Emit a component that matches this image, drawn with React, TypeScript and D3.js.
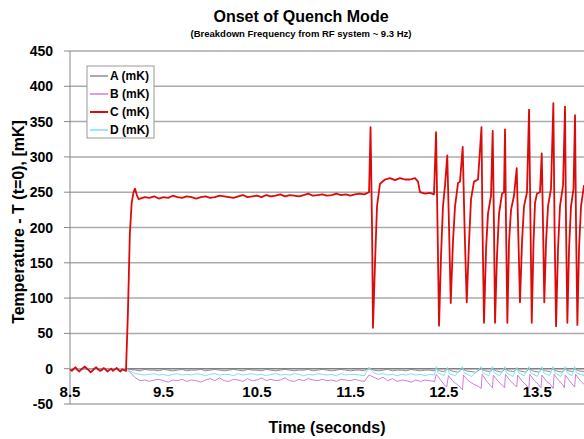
import React from "react";
import * as d3 from "d3";

const width = 584;
const height = 439;

type Pt = [number, number];

// tick values
const yTicks = [-50, 0, 50, 100, 150, 200, 250, 300, 350, 400, 450];
const xTicks = [8.5, 9.5, 10.5, 11.5, 12.5, 13.5];

const seriesNames = ["A (mK)", "B (mK)", "C (mK)", "D (mK)"];
const seriesColors = ["#8c8ca0", "#cc7fdc", "#dd0a0a", "#7fe0ee"];

// C (red) : noise before the step, read every 0.02 s from 8.50 s
const cPreStep = [-1, -3, 0, 2, -2, -4, -1, 1, 3, 0, -2, -5, -3, 0, 2, -1, -3, -2, 1, -1, -4, -2, 0, -3, -1, 1, -2, -4, -1, -2];
const cStep: Pt[] = [[9.099, -3], [9.12, 80], [9.14, 190], [9.16, 235], [9.18, 250], [9.196, 255], [9.215, 246], [9.235, 240]];
// plateau read every 0.05 s from 9.25 s
const cPlateau = [241, 243, 242, 244, 241, 243, 242, 245, 243, 242, 244, 243, 241, 243, 244, 242, 243, 245, 244, 243, 242, 244, 246, 243, 244, 245, 243, 246, 244, 245, 247, 244, 246, 245, 244, 246, 248, 245, 246, 247, 245, 246, 248, 246, 247, 245, 247, 248, 247];
const cQuench: Pt[] = [
  [11.667, 248], [11.700, 250], [11.716, 342], [11.732, 200], [11.742, 58], [11.764, 150], [11.785, 230], [11.817, 262],
  [11.871, 268], [11.924, 270], [11.978, 267], [12.031, 270], [12.085, 268], [12.138, 268], [12.192, 270], [12.224, 265],
  [12.245, 250], [12.299, 248], [12.352, 249], [12.395, 247], [12.417, 335], [12.433, 200], [12.449, 61], [12.470, 160],
  [12.491, 230], [12.513, 260], [12.537, 302], [12.556, 200], [12.574, 93], [12.598, 180], [12.620, 230], [12.652, 263],
  [12.673, 265], [12.702, 314], [12.722, 200], [12.745, 94], [12.770, 180], [12.791, 240], [12.823, 265], [12.866, 268],
  [12.903, 342], [12.914, 200], [12.930, 65], [12.952, 170], [12.973, 220], [13.005, 245], [13.023, 337], [13.037, 200],
  [13.048, 65], [13.069, 160], [13.091, 220], [13.123, 248], [13.144, 250], [13.155, 339], [13.166, 200], [13.180, 65],
  [13.198, 180], [13.219, 225], [13.251, 245], [13.280, 284], [13.299, 180], [13.315, 94], [13.337, 180], [13.358, 230],
  [13.390, 250], [13.412, 367], [13.428, 200], [13.441, 65], [13.460, 180], [13.476, 235], [13.497, 248], [13.529, 250],
  [13.548, 305], [13.562, 200], [13.575, 94], [13.594, 180], [13.615, 230], [13.647, 255], [13.672, 376], [13.685, 200],
  [13.701, 60], [13.722, 170], [13.743, 230], [13.776, 260], [13.797, 371], [13.808, 200], [13.822, 65], [13.840, 170],
  [13.861, 230], [13.888, 255], [13.904, 359], [13.915, 200], [13.929, 62], [13.947, 170], [13.968, 230], [14.0, 260],
];

// A, B, D : read every 0.05 s from 9.15 s to 12.40 s
const aPlateau = [-1, -2, -3, -1, -2, -2, -3, -1, -2, -3, -2, -1, -3, -2, -2, -1, -3, -2, -1, -2, -3, -2, -1, -2, -3, -1, -2, -2, -3, -1, -2, -3, -2, -1, -2, -3, -2, -2, -1, -3, -2, -1, -2, -3, -2, -1, -2, -3, -2, -2, -3, 1, -2, -3, -2, -1, -3, -2, -2, -3, -1, -2, -3, -2, -2, -3];
const bPlateau = [-6, -13, -17, -16, -18, -16, -15, -17, -19, -16, -17, -15, -18, -16, -17, -19, -16, -14, -17, -13, -17, -18, -15, -16, -18, -14, -17, -16, -13, -17, -15, -17, -16, -13, -17, -18, -15, -17, -14, -16, -17, -15, -17, -16, -18, -15, -16, -17, -15, -17, -18, -9, -12, -15, -12, -17, -14, -18, -16, -17, -19, -16, -18, -16, -17, -18];
const dPlateau = [-4, -7, -8, -9, -8, -7, -9, -8, -10, -8, -7, -9, -8, -9, -7, -8, -10, -8, -7, -9, -8, -8, -10, -7, -9, -8, -7, -9, -8, -10, -8, -7, -9, -8, -9, -7, -8, -10, -8, -9, -7, -8, -9, -8, -10, -7, -9, -8, -8, -9, -10, 2, -6, -8, -7, -9, -8, -10, -8, -9, -7, -9, -8, -10, -8, -9];
const minorStart: Pt[] = [[8.5, 0], [8.8, -1], [9.1, 0]];

const aQuench: Pt[] = [
  [12.42, 1], [12.45, -3], [12.50, -4], [12.54, 0], [12.58, -3], [12.65, -5], [12.70, 0], [12.74, -3], [12.84, -5],
  [12.90, 0], [12.94, -3], [13.0, -4], [13.02, 0], [13.06, -3], [13.12, -5], [13.155, 0], [13.19, -3], [13.25, -4],
  [13.28, 0], [13.31, -3], [13.38, -5], [13.41, 0], [13.45, -3], [13.52, -5], [13.55, 0], [13.58, -3], [13.64, -4],
  [13.67, 0], [13.70, -3], [13.77, -5], [13.80, 0], [13.83, -3], [13.88, -4], [13.90, 0], [13.94, -3], [14.0, -4],
];
const bQuench: Pt[] = [
  [12.42, -8], [12.46, -15], [12.50, -22], [12.53, -26], [12.55, -10], [12.60, -18], [12.66, -24], [12.70, -30],
  [12.71, -9], [12.76, -17], [12.82, -22], [12.87, -25], [12.90, -28], [12.91, -8], [12.96, -18], [13.00, -24],
  [13.02, -27], [13.03, -9], [13.08, -18], [13.12, -23], [13.15, -27], [13.16, -8], [13.21, -17], [13.25, -22],
  [13.28, -26], [13.29, -9], [13.34, -18], [13.38, -23], [13.41, -28], [13.42, -8], [13.47, -17], [13.51, -22],
  [13.54, -27], [13.55, -9], [13.60, -18], [13.64, -22], [13.67, -28], [13.68, -8], [13.73, -17], [13.77, -22],
  [13.79, -27], [13.80, -9], [13.85, -18], [13.90, -26], [13.91, -8], [13.96, -17], [14.0, -22],
];
const dQuench: Pt[] = [
  [12.42, 3], [12.44, -6], [12.50, -10], [12.54, 2], [12.56, -7], [12.62, -10], [12.70, 3], [12.72, -6], [12.80, -11],
  [12.90, 3], [12.92, -6], [12.98, -10], [13.02, 3], [13.04, -6], [13.10, -10], [13.155, 3], [13.17, -6], [13.24, -11],
  [13.28, 2], [13.30, -6], [13.36, -10], [13.41, 3], [13.43, -6], [13.50, -11], [13.55, 3], [13.57, -6], [13.63, -10],
  [13.67, 3], [13.69, -6], [13.75, -11], [13.80, 3], [13.82, -6], [13.87, -10], [13.90, 3], [13.92, -6], [14.0, -10],
];

const sampled = (t0: number, dt: number, values: number[]): Pt[] =>
  values.map((v, i) => [t0 + i * dt, v] as Pt);

const seriesA = [...minorStart, ...sampled(9.15, 0.05, aPlateau), ...aQuench];
const seriesB = [...minorStart, ...sampled(9.15, 0.05, bPlateau), ...bQuench];
const seriesC = [...sampled(8.5, 0.02, cPreStep), ...cStep, ...sampled(9.25, 0.05, cPlateau), ...cQuench];
const seriesD = [...minorStart, ...sampled(9.15, 0.05, dPlateau), ...dQuench];

const font = "'Liberation Sans', Arial, sans-serif";

export default function App() {
  const x = d3.scaleLinear().domain([8.5, 14]).range([70, 584]);
  const y = d3.scaleLinear().domain([-50, 450]).range([404, 51]);

  const line = d3.line<Pt>()
    .x(d => x(d[0]))
    .y(d => y(d[1]));

  const allSeries = [seriesA, seriesB, seriesC, seriesD];
  const drawOrder = [0, 1, 3, 2];

  const legendX = 87;
  const legendY = 66;

  return (
    <svg width={width} height={height} style={{ position: "absolute", left: 0, top: 0, background: "#fff" }} fontFamily={font}>
      <text x={301} y={22} textAnchor="middle" fontSize={16} fontWeight="bold">Onset of Quench Mode</text>
      <text x={301} y={37} textAnchor="middle" fontSize={9.5} fontWeight="bold">(Breakdown Frequency from RF system ~ 9.3 Hz)</text>

      {/* gridlines */}
      {yTicks.filter(t => t !== 0).map(t => (
        <line key={t} x1={70} x2={584} y1={y(t)} y2={y(t)} stroke="#ababab" strokeWidth={1.5} />
      ))}

      {/* y axis */}
      <line x1={70} x2={70} y1={y(450)} y2={y(-50)} stroke="#888" strokeWidth={1} />
      {yTicks.map(t => (
        <g key={t}>
          <line x1={64} x2={70} y1={y(t)} y2={y(t)} stroke="#888" />
          <text x={53} y={y(t) + 5} textAnchor="end" fontSize={14} fontWeight="bold">{t}</text>
        </g>
      ))}

      {/* x axis at zero */}
      <line x1={70} x2={584} y1={y(0)} y2={y(0)} stroke="#808080" strokeWidth={1.5} />
      {xTicks.map(t => (
        <text key={t} x={x(t)} y={397} textAnchor="middle" fontSize={15} fontWeight="bold">{t.toFixed(1)}</text>
      ))}

      <g fill="none" strokeLinejoin="round">
        {drawOrder.map(i => (
          <path key={i} d={line(allSeries[i]) ?? ""} stroke={seriesColors[i]} strokeWidth={i === 2 ? 1.8 : 1} />
        ))}
      </g>

      {/* legend */}
      <rect x={legendX} y={legendY} width={67} height={72} fill="#fff" stroke="#999" />
      {seriesNames.map((name, i) => (
        <g key={name} transform={`translate(${legendX}, ${legendY + 10 + i * 18})`}>
          <line x1={3} x2={21} y1={0} y2={0} stroke={seriesColors[i]} strokeWidth={i === 2 ? 2 : 1.5} />
          <text x={23} y={4} fontSize={12} fontWeight="bold">{name}</text>
        </g>
      ))}

      <text x={327} y={433} textAnchor="middle" fontSize={16} fontWeight="bold">Time (seconds)</text>
      <text transform={`translate(24, 222) rotate(-90)`} textAnchor="middle" fontSize={16} fontWeight="bold">Temperature - T (t=0), [mK]</text>
    </svg>
  );
}
